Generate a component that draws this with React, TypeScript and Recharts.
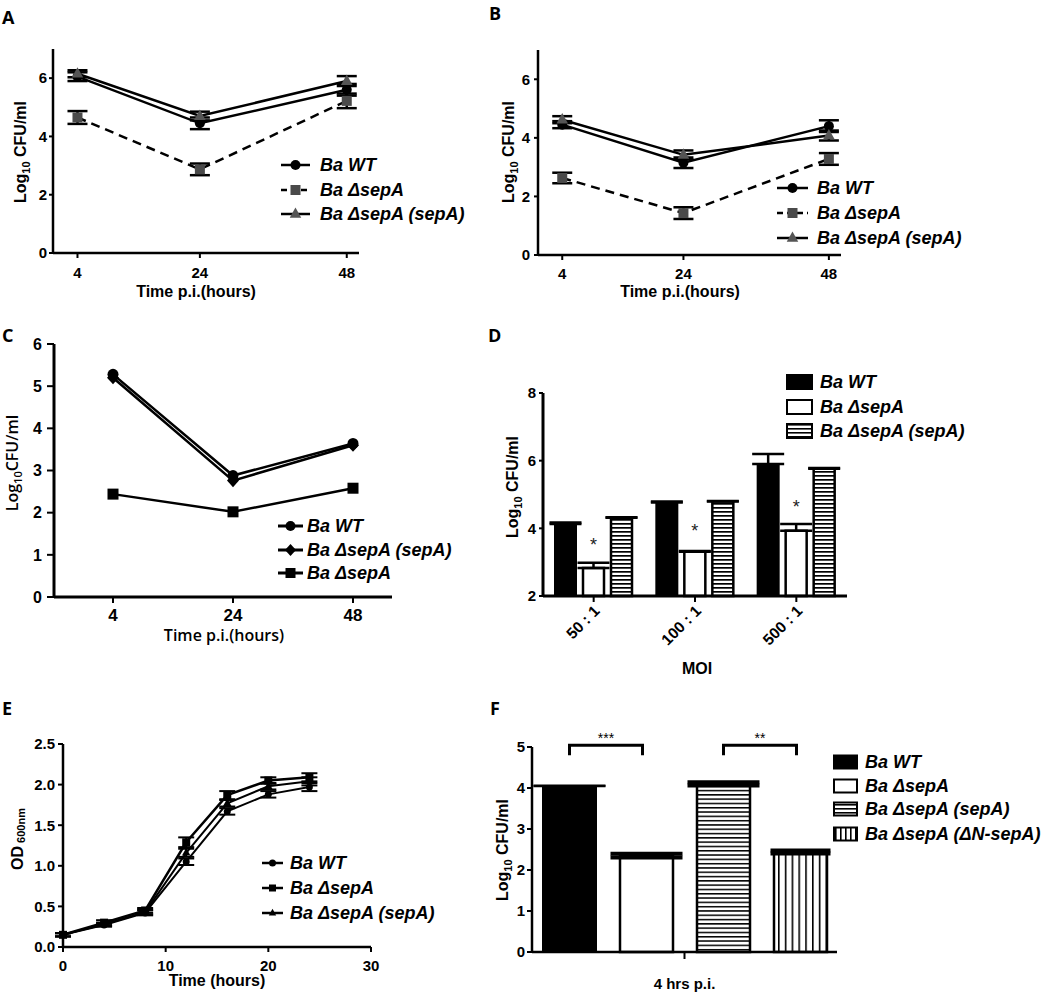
import React from 'react';
import { LineChart, Line, BarChart, Bar, XAxis, YAxis, ErrorBar, LabelList } from 'recharts';

const FONT = '"Liberation Sans", Arial, Helvetica, sans-serif';
const LETTER_FONT = '"Open Sans", "Liberation Sans", sans-serif';

// A - infection time course (log10 CFU/ml)
const hoursAB = [4, 24, 48];
const aWT = [6.05, 4.45, 5.6];
const aWTErr = [0.15, 0.2, 0.2];
const aDel = [4.65, 2.87, 5.22];
const aDelErr = [0.22, 0.2, 0.25];
const aComp = [6.15, 4.7, 5.9];
const aCompErr = [0.12, 0.15, 0.17];

// B
const bWT = [4.45, 3.15, 4.4];
const bWTErr = [0.12, 0.18, 0.2];
const bDel = [2.63, 1.43, 3.28];
const bDelErr = [0.18, 0.2, 0.2];
const bComp = [4.62, 3.42, 4.08];
const bCompErr = [0.12, 0.15, 0.17];

// C
const hoursC = ['4', '24', '48'];
const cWT = [5.28, 2.88, 3.64];
const cComp = [5.2, 2.76, 3.6];
const cDel = [2.44, 2.02, 2.58];

// D - MOI
const moiLabels = ['50 : 1', '100 : 1', '500 : 1'];
const dWT = [4.13, 4.76, 5.9];
const dWTErr = [0.04, 0.03, 0.3];
const dDel = [2.83, 3.31, 3.93];
const dDelErr = [0.15, 0.02, 0.2];
const dComp = [4.31, 4.79, 5.76];
const dCompErr = [0.02, 0.02, 0.02];

// E - growth curve OD600
const hoursE = [0, 4, 8, 12, 16, 20, 24];
const eWT = [0.15, 0.27, 0.42, 1.05, 1.67, 1.88, 1.97];
const eWTErr = [0.02, 0.02, 0.03, 0.04, 0.04, 0.04, 0.05];
const eDel = [0.15, 0.3, 0.45, 1.29, 1.87, 2.05, 2.09];
const eDelErr = [0.02, 0.03, 0.03, 0.06, 0.05, 0.04, 0.05];
const eComp = [0.15, 0.28, 0.43, 1.16, 1.77, 1.98, 2.04];
const eCompErr = [0.02, 0.02, 0.03, 0.05, 0.04, 0.04, 0.05];

// F - 4 hrs p.i.
const fCategory = ['4 hrs p.i.'];
const fWT = [4.05];
const fWTErr = [0.01];
const fDel = [2.35];
const fDelErr = [0.045];
const fComp = [4.1];
const fCompErr = [0.04];
const fDN = [2.44];
const fDNErr = [0.035];
const fBracketLevel = 5.04;
const fBracketLeg = 4.8;

type Plot = { l: number; t: number; r: number; b: number };
const YW = 60;
const XH = 60;
const PAD = 26;

// place a chart so that its plot area lands on the given box
function frameOf(p: Plot) {
  return {
    style: { position: 'absolute', left: p.l - YW, top: p.t - PAD } as React.CSSProperties,
    width: p.r - p.l + YW + PAD,
    height: p.b - p.t + PAD + XH,
    margin: { top: PAD, right: PAD, bottom: 0, left: 0 },
  };
}

const tickFont = (size: number) => ({ fontFamily: FONT, fontSize: size, fontWeight: 700, fill: '#000' });
const axisLine = { stroke: '#000', strokeWidth: 2.5 };
const tickLine = { stroke: '#000', strokeWidth: 2 };

type Shape = 'circle' | 'square' | 'triangle' | 'diamond';

function Marker({ cx, cy, shape, size, fill }: { cx: number; cy: number; shape: Shape; size: number; fill: string }) {
  if (cx == null || cy == null) return null;
  const h = size / 2;
  if (shape === 'circle') return <circle cx={cx} cy={cy} r={h} fill={fill} />;
  if (shape === 'square') return <rect x={cx - h} y={cy - h} width={size} height={size} fill={fill} />;
  if (shape === 'diamond')
    return <polygon points={`${cx},${cy - h * 1.1} ${cx + h},${cy} ${cx},${cy + h * 1.1} ${cx - h},${cy}`} fill={fill} />;
  return (
    <polygon
      points={`${cx},${cy - size * 0.6} ${cx - h * 1.05},${cy + size * 0.35} ${cx + h * 1.05},${cy + size * 0.35}`}
      fill={fill}
    />
  );
}

const dotOf = (shape: Shape, size: number, fill: string) => (p: any) =>
  <Marker key={`${shape}-${p.index}`} cx={p.cx} cy={p.cy} shape={shape} size={size} fill={fill} />;

function InfectionLines(props: {
  plot: Plot; wt: number[]; wtErr: number[]; del: number[]; delErr: number[]; comp: number[]; compErr: number[]; yMargin: number; xMargin: number;
}) {
  const { plot, wt, wtErr, del, delErr, comp, compErr } = props;
  const data = hoursAB.map((h, i) => ({
    h, wt: wt[i], wtErr: wtErr[i], del: del[i], delErr: delErr[i], comp: comp[i], compErr: compErr[i],
  }));
  const f = frameOf(plot);
  return (
    <div style={f.style}>
      <LineChart width={f.width} height={f.height} margin={f.margin} data={data}>
        <XAxis type="number" dataKey="h" domain={[0, 50]} ticks={hoursAB} interval={0} height={XH}
          tick={tickFont(15)} axisLine={axisLine} tickLine={tickLine} tickSize={5} tickMargin={props.xMargin} />
        <YAxis type="number" domain={[0, 7]} ticks={[0, 2, 4, 6]} interval={0} width={YW}
          tick={tickFont(15)} axisLine={axisLine} tickLine={tickLine} tickSize={4} tickMargin={props.yMargin} />
        <Line dataKey="del" stroke="#000" strokeWidth={2.5} strokeDasharray="9 6"
          dot={dotOf('square', 10, '#4a4a4a')} isAnimationActive={false}>
          <ErrorBar dataKey="delErr" direction="y" width={10} stroke="#000" strokeWidth={2.5} />
        </Line>
        <Line dataKey="wt" stroke="#000" strokeWidth={2.5}
          dot={dotOf('circle', 10, '#000')} isAnimationActive={false}>
          <ErrorBar dataKey="wtErr" direction="y" width={10} stroke="#000" strokeWidth={2.5} />
        </Line>
        <Line dataKey="comp" stroke="#000" strokeWidth={2.5}
          dot={dotOf('triangle', 11, '#555')} isAnimationActive={false}>
          <ErrorBar dataKey="compErr" direction="y" width={10} stroke="#000" strokeWidth={2.5} />
        </Line>
      </LineChart>
    </div>
  );
}

function PanelC() {
  const plot = { l: 54, t: 344, r: 392, b: 597 };
  const data = hoursC.map((h, i) => ({ h, wt: cWT[i], comp: cComp[i], del: cDel[i] }));
  const f = frameOf(plot);
  return (
    <div style={f.style}>
      <LineChart width={f.width} height={f.height} margin={f.margin} data={data}>
        <XAxis dataKey="h" type="category" scale="point" padding={{ left: 59, right: 39 }} height={XH}
          tick={tickFont(17)} axisLine={{ stroke: '#000', strokeWidth: 3 }} tickLine={tickLine} tickSize={6} tickMargin={6} />
        <YAxis type="number" domain={[0, 6]} ticks={[0, 1, 2, 3, 4, 5, 6]} interval={0} width={YW}
          tick={tickFont(16)} axisLine={{ stroke: '#000', strokeWidth: 3 }} tickLine={tickLine} tickSize={7} tickMargin={5} />
        <Line dataKey="del" stroke="#000" strokeWidth={2.5} dot={dotOf('square', 11, '#000')} isAnimationActive={false} />
        <Line dataKey="comp" stroke="#000" strokeWidth={2.5} dot={dotOf('diamond', 12, '#000')} isAnimationActive={false} />
        <Line dataKey="wt" stroke="#000" strokeWidth={2.5} dot={dotOf('circle', 11, '#000')} isAnimationActive={false} />
      </LineChart>
    </div>
  );
}

const MoiTick = (props: any) => {
  const { x, y, payload } = props;
  const px = x + 7;
  const py = y + 8;
  return (
    <text x={px} y={py} transform={`rotate(-45 ${px} ${py})`} textAnchor="end" style={tickFont(15.5)}>
      {payload.value}
    </text>
  );
};

function PanelD() {
  const plot = { l: 543, t: 393, r: 847, b: 596 };
  const data = moiLabels.map((m, i) => ({
    m, wt: dWT[i], wtErr: [0, dWTErr[i]], del: dDel[i], delErr: [0, dDelErr[i]], comp: dComp[i], compErr: [0, dCompErr[i]],
  }));
  const f = frameOf(plot);
  const star = (p: any) => {
    const { x, y, width, height, value, index } = p;
    const perUnit = height / (value - 2);
    const errPx = dDelErr[index] * perUnit;
    return (
      <text key={`star-${index}`} x={x + width / 2} y={y - 14 - errPx * 0.5} textAnchor="middle"
        style={{ fontFamily: FONT, fontSize: 18, fill: '#222' }}>*</text>
    );
  };
  return (
    <div style={f.style}>
      <BarChart width={f.width} height={f.height} margin={f.margin} data={data} barCategoryGap={12} barGap={7}>
        <defs>
          <pattern id="hstripeD" width="8" height="4" patternUnits="userSpaceOnUse">
            <rect width="8" height="4" fill="#fff" />
            <rect width="8" height="1.7" fill="#000" />
          </pattern>
        </defs>
        <XAxis dataKey="m" type="category" height={XH} tick={<MoiTick />} interval={0}
          axisLine={{ stroke: '#000', strokeWidth: 3 }} tickLine={tickLine} tickSize={6} tickMargin={2} />
        <YAxis type="number" domain={[2, 8]} ticks={[2, 4, 6, 8]} interval={0} width={YW}
          tick={tickFont(15)} axisLine={{ stroke: '#000', strokeWidth: 3 }} tickLine={tickLine} tickSize={4} tickMargin={3} />
        <Bar dataKey="wt" fill="#000" stroke="#000" strokeWidth={2} isAnimationActive={false}>
          <ErrorBar dataKey="wtErr" direction="y" width={16} stroke="#000" strokeWidth={2.5} />
        </Bar>
        <Bar dataKey="del" fill="#fff" stroke="#000" strokeWidth={2.5} isAnimationActive={false}>
          <ErrorBar dataKey="delErr" direction="y" width={16} stroke="#000" strokeWidth={2.5} />
          <LabelList dataKey="del" content={star} />
        </Bar>
        <Bar dataKey="comp" fill="url(#hstripeD)" stroke="#000" strokeWidth={2.5} isAnimationActive={false}>
          <ErrorBar dataKey="compErr" direction="y" width={16} stroke="#000" strokeWidth={2.5} />
        </Bar>
      </BarChart>
    </div>
  );
}

function PanelE() {
  const plot = { l: 63, t: 744, r: 371, b: 947 };
  const data = hoursE.map((h, i) => ({
    h, wt: eWT[i], wtErr: eWTErr[i], del: eDel[i], delErr: eDelErr[i], comp: eComp[i], compErr: eCompErr[i],
  }));
  const f = frameOf(plot);
  return (
    <div style={f.style}>
      <LineChart width={f.width} height={f.height} margin={f.margin} data={data}>
        <XAxis type="number" dataKey="h" domain={[0, 30]} ticks={[0, 10, 20, 30]} interval={0} height={XH}
          tick={tickFont(15)} axisLine={axisLine} tickLine={tickLine} tickSize={5} tickMargin={8} />
        <YAxis type="number" domain={[0, 2.5]} ticks={[0, 0.5, 1, 1.5, 2, 2.5]} interval={0} width={YW}
          tickFormatter={(v: number) => v.toFixed(1)}
          tick={tickFont(15)} axisLine={axisLine} tickLine={tickLine} tickSize={5} tickMargin={3} />
        <Line dataKey="wt" stroke="#000" strokeWidth={2} dot={dotOf('circle', 7, '#000')} isAnimationActive={false}>
          <ErrorBar dataKey="wtErr" direction="y" width={8} stroke="#000" strokeWidth={2} />
        </Line>
        <Line dataKey="comp" stroke="#000" strokeWidth={2} dot={dotOf('triangle', 8, '#000')} isAnimationActive={false}>
          <ErrorBar dataKey="compErr" direction="y" width={8} stroke="#000" strokeWidth={2} />
        </Line>
        <Line dataKey="del" stroke="#000" strokeWidth={2.5} dot={dotOf('square', 8, '#000')} isAnimationActive={false}>
          <ErrorBar dataKey="delErr" direction="y" width={8} stroke="#000" strokeWidth={2} />
        </Line>
      </LineChart>
    </div>
  );
}

const GAP_F = 24;

function PanelF() {
  const plot = { l: 532, t: 747, r: 837, b: 952 };
  const data = fCategory.map((c, i) => ({
    c, wt: fWT[i], wtErr: fWTErr[i], del: fDel[i], delErr: fDelErr[i], comp: fComp[i], compErr: fCompErr[i], dn: fDN[i], dnErr: fDNErr[i],
  }));
  const f = frameOf(plot);
  // bracket from the previous bar's centre to this bar's centre
  const bracket = (mark: string) => (p: any) => {
    const { x, y, width, height, value } = p;
    const perUnit = height / value;
    const base = y + height;
    const top = base - fBracketLevel * perUnit;
    const leg = base - fBracketLeg * perUnit;
    const x2 = x + width / 2 - 4;
    const x1 = x - GAP_F - width / 2;
    return (
      <g key={mark}>
        <path d={`M${x1},${leg} L${x1},${top} L${x2},${top} L${x2},${leg}`} fill="none" stroke="#000" strokeWidth={3} />
        <text x={(x1 + x2) / 2} y={top - 2} textAnchor="middle" style={{ fontFamily: FONT, fontSize: 14, fill: '#000' }}>{mark}</text>
      </g>
    );
  };
  const FTick = (t: any) => (
    <text x={t.x} y={t.y} dy="0.71em" textAnchor="middle" style={tickFont(15)}>{t.payload.value}</text>
  );
  return (
    <div style={f.style}>
      <BarChart width={f.width} height={f.height} margin={f.margin} data={data} barCategoryGap={11} barGap={GAP_F}>
        <defs>
          <pattern id="hstripeF" width="8" height="4.3" patternUnits="userSpaceOnUse">
            <rect width="8" height="4.3" fill="#fff" />
            <rect width="8" height="1.5" fill="#000" />
          </pattern>
          <pattern id="vstripeF" width="6.8" height="8" patternUnits="userSpaceOnUse">
            <rect width="6.8" height="8" fill="#fff" />
            <rect width="1.6" height="8" fill="#000" />
          </pattern>
        </defs>
        <XAxis dataKey="c" type="category" height={XH} tick={<FTick />}
          axisLine={axisLine} tickLine={tickLine} tickSize={7} tickMargin={19} />
        <YAxis type="number" domain={[0, 5]} ticks={[0, 1, 2, 3, 4, 5]} interval={0} width={YW}
          tick={tickFont(15)} axisLine={axisLine} tickLine={tickLine} tickSize={5} tickMargin={2} />
        <Bar dataKey="wt" fill="#000" stroke="#000" strokeWidth={2} isAnimationActive={false}>
          <ErrorBar dataKey="wtErr" direction="y" width={36} stroke="#000" strokeWidth={2} />
        </Bar>
        <Bar dataKey="del" fill="#fff" stroke="#000" strokeWidth={2.5} isAnimationActive={false}>
          <ErrorBar dataKey="delErr" direction="y" width={36} stroke="#000" strokeWidth={4} />
          <LabelList dataKey="del" content={bracket('***')} />
        </Bar>
        <Bar dataKey="comp" fill="url(#hstripeF)" stroke="#000" strokeWidth={2.5} isAnimationActive={false}>
          <ErrorBar dataKey="compErr" direction="y" width={36} stroke="#000" strokeWidth={4} />
        </Bar>
        <Bar dataKey="dn" fill="url(#vstripeF)" stroke="#000" strokeWidth={2.5} isAnimationActive={false}>
          <ErrorBar dataKey="dnErr" direction="y" width={30} stroke="#000" strokeWidth={4} />
          <LabelList dataKey="dn" content={bracket('**')} />
        </Bar>
      </BarChart>
    </div>
  );
}

// ---------- overlay: panel letters, axis titles, legends ----------
const titleStyle = { fontFamily: FONT, fontSize: 16, fontWeight: 700, fill: '#000' };
const legendStyle = { fontFamily: FONT, fontSize: 18, fontWeight: 700, fontStyle: 'italic', fill: '#000' };

function YTitle({ x, y, main, sub, rest, style }: { x: number; y: number; main: string; sub: string; rest: string; style?: any }) {
  return (
    <text x={x} y={y} transform={`rotate(-90 ${x} ${y})`} textAnchor="middle" style={style || titleStyle}>
      {main}
      <tspan fontSize={11} dy={4}>{sub}</tspan>
      <tspan dy={-4}>{rest}</tspan>
    </text>
  );
}

type KeyItem = { label: string; shape: Shape; size: number; fill: string; dashed?: boolean };

function LineKey({ items, x1, x2, tx, ys, sw = 2.5, style = legendStyle }: { items: KeyItem[]; x1: number; x2: number; tx: number; ys: number[]; sw?: number; style?: any }) {
  return (
    <g>
      {items.map((it, i) => (
        <g key={it.label}>
          <line x1={x1} x2={x2} y1={ys[i]} y2={ys[i]} stroke="#000" strokeWidth={sw} strokeDasharray={it.dashed ? '6 4' : undefined} />
          <Marker cx={(x1 + x2) / 2} cy={ys[i]} shape={it.shape} size={it.size} fill={it.fill} />
          <text x={tx} y={ys[i]} dominantBaseline="central" style={style}>{it.label}</text>
        </g>
      ))}
    </g>
  );
}

function SwatchKey({ items, x, w, h, tx, ys }: { items: { label: string; fill: string }[]; x: number; w: number; h: number; tx: number; ys: number[] }) {
  return (
    <g>
      {items.map((it, i) => (
        <g key={it.label}>
          <rect x={x} y={ys[i] - h / 2} width={w} height={h} fill={it.fill} stroke="#000" strokeWidth={2} />
          <text x={tx} y={ys[i]} dominantBaseline="central" style={legendStyle}>{it.label}</text>
        </g>
      ))}
    </g>
  );
}

const keyAB: KeyItem[] = [
  { label: 'Ba WT', shape: 'circle', size: 10, fill: '#000' },
  { label: 'Ba ΔsepA', shape: 'square', size: 10, fill: '#4a4a4a', dashed: true },
  { label: 'Ba ΔsepA (sepA)', shape: 'triangle', size: 11, fill: '#555' },
];
const keyC: KeyItem[] = [
  { label: 'Ba WT', shape: 'circle', size: 10, fill: '#000' },
  { label: 'Ba ΔsepA (sepA)', shape: 'diamond', size: 11, fill: '#000' },
  { label: 'Ba ΔsepA', shape: 'square', size: 10, fill: '#000' },
];
const keyE: KeyItem[] = [
  { label: 'Ba WT', shape: 'circle', size: 7, fill: '#000' },
  { label: 'Ba ΔsepA', shape: 'square', size: 7, fill: '#000' },
  { label: 'Ba ΔsepA (sepA)', shape: 'triangle', size: 7, fill: '#000' },
];

function Overlay() {
  const letter = { fontFamily: LETTER_FONT, fontSize: 18, fontWeight: 700, fill: '#000' };
  const cTitle = { fontFamily: LETTER_FONT, fontSize: 16, fontWeight: 600, fill: '#000' };
  return (
    <svg width={1050} height={996} style={{ position: 'absolute', left: 0, top: 0, pointerEvents: 'none' }}>
      <defs>
        <pattern id="hstripeK" width="8" height="4" patternUnits="userSpaceOnUse">
          <rect width="8" height="4" fill="#fff" />
          <rect width="8" height="1.6" fill="#000" />
        </pattern>
        <pattern id="vstripeK" width="5" height="8" patternUnits="userSpaceOnUse">
          <rect width="5" height="8" fill="#fff" />
          <rect width="1.6" height="8" fill="#000" />
        </pattern>
      </defs>
      <text x={2} y={24} style={letter}>A</text>
      <text x={489} y={19.5} style={letter}>B</text>
      <text x={2} y={342} style={letter}>C</text>
      <text x={488} y={342} style={letter}>D</text>
      <text x={2} y={715} style={letter}>E</text>
      <text x={490} y={715} style={letter}>F</text>

      <text x={196} y={297} textAnchor="middle" style={titleStyle}>Time p.i.(hours)</text>
      <text x={680} y={297} textAnchor="middle" style={titleStyle}>Time p.i.(hours)</text>
      <text x={224} y={641} textAnchor="middle" style={cTitle}>Time p.i.(hours)</text>
      <text x={697} y={674} textAnchor="middle" style={titleStyle}>MOI</text>
      <text x={217} y={986} textAnchor="middle" style={titleStyle}>Time (hours)</text>

      <YTitle x={26} y={152} main="Log" sub="10" rest=" CFU/ml" />
      <YTitle x={514} y={152} main="Log" sub="10" rest=" CFU/ml" />
      <YTitle x={18} y={463} main="Log" sub="10" rest="CFU/ml" style={cTitle} />
      <YTitle x={518} y={487} main="Log" sub="10" rest=" CFU/ml" />
      <YTitle x={508} y={850} main="Log" sub="10" rest=" CFU/ml" />
      <text x={23} y={839} transform="rotate(-90 23 839)" textAnchor="middle" style={titleStyle}>
        OD<tspan fontSize={11} dy={2}> 600nm</tspan>
      </text>

      <LineKey items={keyAB} x1={281} x2={310} tx={320} ys={[165, 190, 214]} />
      <LineKey items={keyAB} x1={777} x2={808} tx={817} ys={[188, 213, 238]} />
      <LineKey items={keyC} x1={278} x2={303} tx={307} ys={[526, 550, 573]} sw={3} />
      <SwatchKey x={787} w={25} h={14} tx={820} ys={[382, 407, 431]}
        items={[
          { label: 'Ba WT', fill: '#000' },
          { label: 'Ba ΔsepA', fill: '#fff' },
          { label: 'Ba ΔsepA (sepA)', fill: 'url(#hstripeK)' },
        ]} />
      <LineKey items={keyE} x1={262} x2={283} tx={290} ys={[863, 888, 913]} sw={2.5} />
      <SwatchKey x={834} w={23} h={13} tx={865} ys={[762, 786, 809, 834]}
        items={[
          { label: 'Ba WT', fill: '#000' },
          { label: 'Ba ΔsepA', fill: '#fff' },
          { label: 'Ba ΔsepA (sepA)', fill: 'url(#hstripeK)' },
          { label: 'Ba ΔsepA (ΔN-sepA)', fill: 'url(#vstripeK)' },
        ]} />
    </svg>
  );
}

export default function App() {
  return (
    <div style={{ position: 'absolute', left: 0, top: 0, width: 1050, height: 996, background: '#fff', overflow: 'hidden' }}>
      <InfectionLines plot={{ l: 53, t: 49, r: 359, b: 253 }} wt={aWT} wtErr={aWTErr} del={aDel} delErr={aDelErr}
        comp={aComp} compErr={aCompErr} yMargin={2} xMargin={9} />
      <InfectionLines plot={{ l: 538, t: 50, r: 841, b: 255 }} wt={bWT} wtErr={bWTErr} del={bDel} delErr={bDelErr}
        comp={bComp} compErr={bCompErr} yMargin={4} xMargin={8} />
      <PanelC />
      <PanelD />
      <PanelE />
      <PanelF />
      <Overlay />
    </div>
  );
}
